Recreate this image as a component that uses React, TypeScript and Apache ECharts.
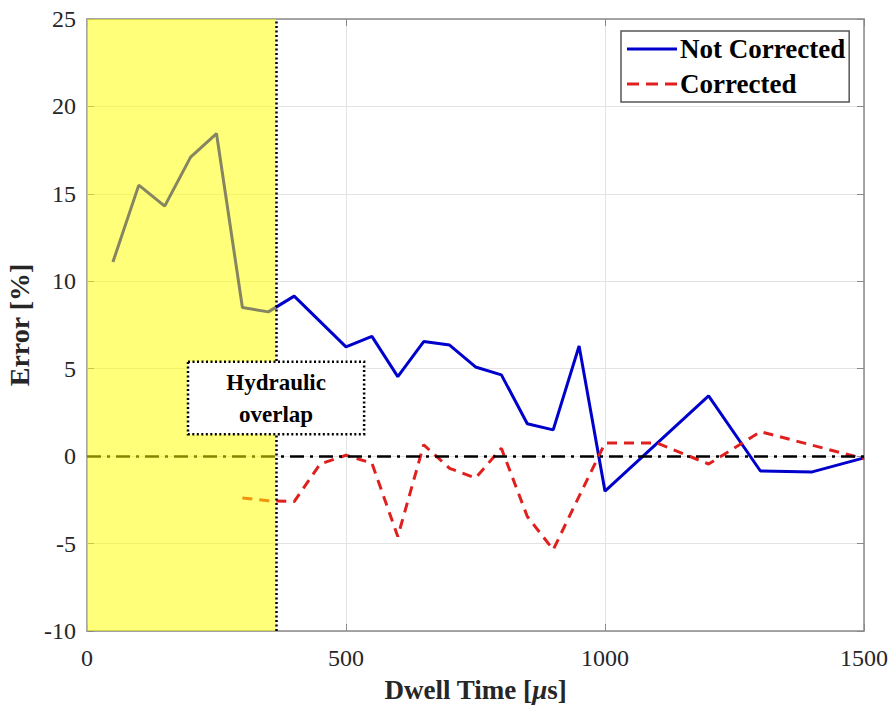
import React, { useEffect, useRef } from "react";
import * as echarts from "echarts";

const xNotCorrected = [50, 100, 150, 200, 250, 300, 350, 400, 500, 550, 600, 650, 700, 750, 800, 850, 900, 950, 1000, 1200, 1300, 1400, 1500];
const yNotCorrected = [11.1, 15.5, 14.3, 17.1, 18.45, 8.5, 8.25, 9.15, 6.25, 6.85, 4.55, 6.55, 6.35, 5.1, 4.65, 1.85, 1.5, 6.3, -2.0, 3.45, -0.85, -0.9, -0.1];

const xCorrected = [300, 350, 400, 450, 500, 550, 600, 650, 700, 750, 800, 850, 900, 1000, 1100, 1200, 1300, 1500];
const yCorrected = [-2.4, -2.55, -2.6, -0.45, 0.05, -0.4, -4.6, 0.65, -0.7, -1.25, 0.45, -3.45, -5.35, 0.75, 0.75, -0.45, 1.4, -0.15];

const overlapEnd = 365;
const boxCorners = [[195, 5.4], [535, 1.25]];
const xTicks = { min: 0, max: 1500, interval: 500 };
const yTicks = { min: -10, max: 25, interval: 5 };

const FONT = "Liberation Serif";
const FRAME = "#8a8a8a";

export default function App() {
  const ref = useRef<HTMLDivElement>(null);
  useEffect(() => {
    if (!ref.current) return;
    const chart = echarts.init(ref.current, null, { renderer: "svg" });
    const axisCommon = {
      axisLine: { show: true, onZero: false, lineStyle: { color: FRAME, width: 1.5 } },
      axisTick: { show: true, inside: true, length: 7, lineStyle: { color: FRAME, width: 1 } },
    };
    chart.setOption({
      animation: false,
      backgroundColor: "#fff",
      grid: { left: 87, right: 30, top: 19, bottom: 76, containLabel: false, outerBoundsMode: "none" },
      legend: {
        data: [
          { name: "Not Corrected", icon: "path://M0,0h50v3h-50z" },
          { name: "Corrected", icon: "path://M0,0h12v3h-12z M19,0h12v3h-12z M38,0h12v3h-12z" },
        ],
        orient: "vertical",
        left: 621,
        top: 31,
        padding: [4, 4, 4, 6],
        itemWidth: 50,
        itemHeight: 3,
        itemGap: 7,
        borderColor: "#555",
        borderWidth: 1.5,
        backgroundColor: "#fff",
        textStyle: { fontFamily: FONT, fontWeight: "bold", fontSize: 27, lineHeight: 28, color: "#000", padding: [0, 0, 0, -2] },
      },
      xAxis: [
        {
          type: "value",
          ...xTicks,
          position: "bottom",
          ...axisCommon,
          splitLine: { show: true, lineStyle: { color: "#e3e3e3", width: 1 } },
          axisLabel: { fontFamily: FONT, fontSize: 24, color: "#262626", margin: 15, formatter: (v: number) => String(v) },
          name: "Dwell Time [{i|μ}s]",
          nameLocation: "middle",
          nameGap: 45,
          nameTextStyle: {
            fontFamily: FONT,
            fontWeight: "bold",
            fontSize: 27,
            color: "#262626",
            rich: { i: { fontFamily: FONT, fontStyle: "italic", fontWeight: "bold", fontSize: 27, color: "#262626" } },
          },
        },
        {
          type: "value",
          ...xTicks,
          position: "top",
          ...axisCommon,
          splitLine: { show: false },
          axisLabel: { show: false },
        },
      ],
      yAxis: [
        {
          type: "value",
          ...yTicks,
          position: "left",
          ...axisCommon,
          splitLine: { show: true, lineStyle: { color: "#e3e3e3", width: 1 } },
          axisLabel: { fontFamily: FONT, fontSize: 24, color: "#262626", margin: 11 },
          name: "Error [%]",
          nameLocation: "middle",
          nameGap: 51,
          nameTextStyle: { fontFamily: FONT, fontWeight: "bold", fontSize: 28, color: "#262626" },
        },
        {
          type: "value",
          ...yTicks,
          position: "right",
          ...axisCommon,
          splitLine: { show: false },
          axisLabel: { show: false },
        },
      ],
      series: [
        {
          name: "Not Corrected",
          type: "line",
          z: 3,
          symbol: "none",
          color: "#0000cd",
          lineStyle: { color: "#0000cd", width: 3 },
          data: xNotCorrected.map((x, i) => [x, yNotCorrected[i]]),
        },
        {
          name: "Corrected",
          type: "line",
          z: 3,
          symbol: "none",
          color: "#e0201f",
          lineStyle: { color: "#e0201f", width: 3, type: [10, 7] },
          data: xCorrected.map((x, i) => [x, yCorrected[i]]),
          markLine: {
            z: 4,
            silent: true,
            symbol: "none",
            label: { show: false },
            lineStyle: { color: "#000", width: 2.5, type: [14, 6, 3, 6] },
            data: [[{ coord: [0, 0] }, { coord: [1500, 0] }]],
          },
        },
        {
          name: "overlay",
          type: "line",
          symbol: "none",
          data: [],
          markArea: {
            z: 10,
            silent: true,
            itemStyle: { color: "rgba(255,255,0,0.52)" },
            data: [[{ xAxis: 0 }, { xAxis: overlapEnd }]],
          },
          markLine: {
            z: 11,
            silent: true,
            symbol: "none",
            label: { show: false },
            lineStyle: { color: "#000", width: 2.5, type: [2, 2.5] },
            data: [{ xAxis: overlapEnd }],
          },
        },
      ],
    });
    const p1 = chart.convertToPixel({ xAxisIndex: 0, yAxisIndex: 0 }, boxCorners[0]) as number[];
    const p2 = chart.convertToPixel({ xAxisIndex: 0, yAxisIndex: 0 }, boxCorners[1]) as number[];
    chart.setOption({
      graphic: [
        {
          type: "rect",
          z: 100,
          shape: { x: p1[0], y: p1[1], width: p2[0] - p1[0], height: p2[1] - p1[1] },
          style: { fill: "#fff", stroke: "#000", lineWidth: 2.5, lineDash: [2, 2.5] },
        },
        {
          type: "text",
          z: 101,
          x: (p1[0] + p2[0]) / 2,
          y: (p1[1] + p2[1]) / 2,
          style: {
            text: "Hydraulic\noverlap",
            font: `bold 23px ${FONT}`,
            fill: "#000",
            align: "center",
            verticalAlign: "middle",
            lineHeight: 32,
          },
        },
      ],
    });
    return () => chart.dispose();
  }, []);
  return <div ref={ref} style={{ width: 894, height: 707, position: "absolute", left: 0, top: 0 }} />;
}
